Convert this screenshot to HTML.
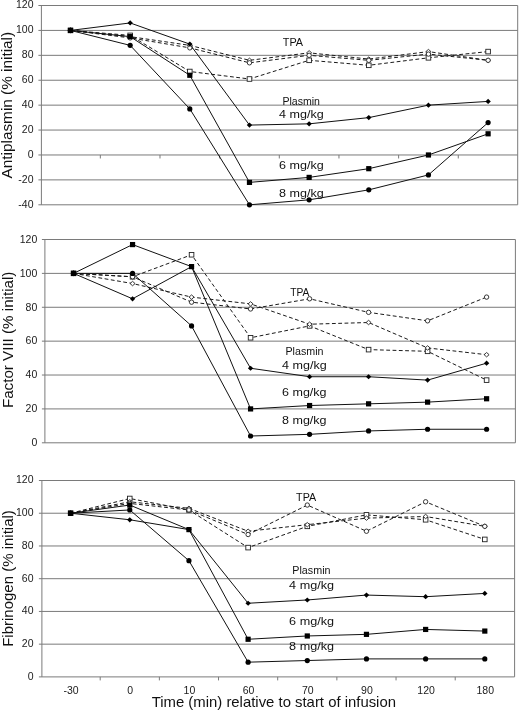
<!DOCTYPE html>
<html><head><meta charset="utf-8"><title>Chart</title>
<style>
html,body{margin:0;padding:0;background:#fff;}
body{width:520px;height:712px;overflow:hidden;}
svg{display:block;will-change:transform;}
text{font-family:"Liberation Sans",sans-serif;fill:#111;}
.yl{font-size:10.5px;fill:#1a1a1a;}
.xl{font-size:10.5px;fill:#1a1a1a;}
.lb{font-size:10.5px;}
.yt{font-size:14.6px;}
.xt{font-size:14.8px;}
</style></head><body>
<svg width="520" height="712" viewBox="0 0 520 712">
<rect width="520" height="712" fill="#fff"/>
<line x1="38.4" y1="5.5" x2="517.7" y2="5.5" stroke="#7a7a7a" stroke-width="1"/>
<text x="33.5" y="8.3" text-anchor="end" class="yl">120</text>
<line x1="38.4" y1="30.41" x2="517.7" y2="30.41" stroke="#7a7a7a" stroke-width="1"/>
<text x="33.5" y="33.21" text-anchor="end" class="yl">100</text>
<line x1="38.4" y1="55.33" x2="517.7" y2="55.33" stroke="#7a7a7a" stroke-width="1"/>
<text x="33.5" y="58.12" text-anchor="end" class="yl">80</text>
<line x1="38.4" y1="80.24" x2="517.7" y2="80.24" stroke="#7a7a7a" stroke-width="1"/>
<text x="33.5" y="83.04" text-anchor="end" class="yl">60</text>
<line x1="38.4" y1="105.15" x2="517.7" y2="105.15" stroke="#7a7a7a" stroke-width="1"/>
<text x="33.5" y="107.95" text-anchor="end" class="yl">40</text>
<line x1="38.4" y1="130.06" x2="517.7" y2="130.06" stroke="#7a7a7a" stroke-width="1"/>
<text x="33.5" y="132.86" text-anchor="end" class="yl">20</text>
<line x1="38.4" y1="154.97" x2="517.7" y2="154.97" stroke="#7a7a7a" stroke-width="1"/>
<text x="33.5" y="157.78" text-anchor="end" class="yl">0</text>
<line x1="38.4" y1="179.89" x2="517.7" y2="179.89" stroke="#7a7a7a" stroke-width="1"/>
<text x="33.5" y="182.69" text-anchor="end" class="yl">-20</text>
<line x1="38.4" y1="204.8" x2="517.7" y2="204.8" stroke="#7a7a7a" stroke-width="1"/>
<text x="33.5" y="207.6" text-anchor="end" class="yl">-40</text>
<line x1="41.4" y1="5.5" x2="41.4" y2="204.8" stroke="#7a7a7a" stroke-width="1"/>
<line x1="517.7" y1="5.5" x2="517.7" y2="204.8" stroke="#7a7a7a" stroke-width="1"/>
<line x1="100.33" y1="154.97" x2="100.33" y2="158.47" stroke="#7a7a7a" stroke-width="1"/>
<line x1="159.99" y1="154.97" x2="159.99" y2="158.47" stroke="#7a7a7a" stroke-width="1"/>
<line x1="219.64" y1="154.97" x2="219.64" y2="158.47" stroke="#7a7a7a" stroke-width="1"/>
<line x1="279.3" y1="154.97" x2="279.3" y2="158.47" stroke="#7a7a7a" stroke-width="1"/>
<line x1="338.96" y1="154.97" x2="338.96" y2="158.47" stroke="#7a7a7a" stroke-width="1"/>
<line x1="398.61" y1="154.97" x2="398.61" y2="158.47" stroke="#7a7a7a" stroke-width="1"/>
<line x1="458.27" y1="154.97" x2="458.27" y2="158.47" stroke="#7a7a7a" stroke-width="1"/>
<text transform="translate(12.2 178.4) rotate(-90)" class="yt" textLength="146.5" lengthAdjust="spacingAndGlyphs">Antiplasmin (% initial)</text>
<polyline points="70.5,30.41 130.16,35.4 189.81,71.52 249.47,78.99 309.13,60.31 368.79,65.29 428.44,57.82 488.1,51.59" fill="none" stroke="#1a1a1a" stroke-width="1" stroke-dasharray="3.8 2.5"/>
<polyline points="70.5,30.41 130.16,36.64 189.81,45.36 249.47,60.31 309.13,52.83 368.79,59.06 428.44,51.59 488.1,60.31" fill="none" stroke="#1a1a1a" stroke-width="1" stroke-dasharray="3.8 2.5"/>
<polyline points="70.5,30.41 130.16,37.89 189.81,47.85 249.47,62.8 309.13,55.33 368.79,60.31 428.44,54.08 488.1,60.31" fill="none" stroke="#1a1a1a" stroke-width="1" stroke-dasharray="3.8 2.5"/>
<polyline points="70.5,30.41 130.16,22.94 189.81,44.11 249.47,125.08 309.13,123.83 368.79,117.61 428.44,105.15 488.1,101.41" fill="none" stroke="#111" stroke-width="1"/>
<polyline points="70.5,30.41 130.16,36.64 189.81,75.26 249.47,182.38 309.13,177.4 368.79,168.68 428.44,154.97 488.1,133.8" fill="none" stroke="#111" stroke-width="1"/>
<polyline points="70.5,30.41 130.16,45.36 189.81,108.89 249.47,204.8 309.13,199.82 368.79,189.85 428.44,174.91 488.1,122.59" fill="none" stroke="#111" stroke-width="1"/>
<rect x="68.2" y="28.11" width="4.6" height="4.6" fill="#fff" stroke="#222" stroke-width="0.9"/>
<rect x="127.86" y="33.1" width="4.6" height="4.6" fill="#fff" stroke="#222" stroke-width="0.9"/>
<rect x="187.51" y="69.22" width="4.6" height="4.6" fill="#fff" stroke="#222" stroke-width="0.9"/>
<rect x="247.17" y="76.69" width="4.6" height="4.6" fill="#fff" stroke="#222" stroke-width="0.9"/>
<rect x="306.83" y="58.01" width="4.6" height="4.6" fill="#fff" stroke="#222" stroke-width="0.9"/>
<rect x="366.49" y="62.99" width="4.6" height="4.6" fill="#fff" stroke="#222" stroke-width="0.9"/>
<rect x="426.14" y="55.52" width="4.6" height="4.6" fill="#fff" stroke="#222" stroke-width="0.9"/>
<rect x="485.8" y="49.29" width="4.6" height="4.6" fill="#fff" stroke="#222" stroke-width="0.9"/>
<path d="M70.5 28.21l2.5 2.2l-2.5 2.2l-2.5 -2.2z" fill="#fff" stroke="#222" stroke-width="0.9"/>
<path d="M130.16 34.44l2.5 2.2l-2.5 2.2l-2.5 -2.2z" fill="#fff" stroke="#222" stroke-width="0.9"/>
<path d="M189.81 43.16l2.5 2.2l-2.5 2.2l-2.5 -2.2z" fill="#fff" stroke="#222" stroke-width="0.9"/>
<path d="M249.47 58.11l2.5 2.2l-2.5 2.2l-2.5 -2.2z" fill="#fff" stroke="#222" stroke-width="0.9"/>
<path d="M309.13 50.63l2.5 2.2l-2.5 2.2l-2.5 -2.2z" fill="#fff" stroke="#222" stroke-width="0.9"/>
<path d="M368.79 56.86l2.5 2.2l-2.5 2.2l-2.5 -2.2z" fill="#fff" stroke="#222" stroke-width="0.9"/>
<path d="M428.44 49.39l2.5 2.2l-2.5 2.2l-2.5 -2.2z" fill="#fff" stroke="#222" stroke-width="0.9"/>
<path d="M488.1 58.11l2.5 2.2l-2.5 2.2l-2.5 -2.2z" fill="#fff" stroke="#222" stroke-width="0.9"/>
<circle cx="70.5" cy="30.41" r="2.2" fill="#fff" stroke="#222" stroke-width="0.9"/>
<circle cx="130.16" cy="37.89" r="2.2" fill="#fff" stroke="#222" stroke-width="0.9"/>
<circle cx="189.81" cy="47.85" r="2.2" fill="#fff" stroke="#222" stroke-width="0.9"/>
<circle cx="249.47" cy="62.8" r="2.2" fill="#fff" stroke="#222" stroke-width="0.9"/>
<circle cx="309.13" cy="55.33" r="2.2" fill="#fff" stroke="#222" stroke-width="0.9"/>
<circle cx="368.79" cy="60.31" r="2.2" fill="#fff" stroke="#222" stroke-width="0.9"/>
<circle cx="428.44" cy="54.08" r="2.2" fill="#fff" stroke="#222" stroke-width="0.9"/>
<circle cx="488.1" cy="60.31" r="2.2" fill="#fff" stroke="#222" stroke-width="0.9"/>
<circle cx="70.5" cy="30.41" r="2.6" fill="#000"/>
<circle cx="130.16" cy="45.36" r="2.6" fill="#000"/>
<circle cx="189.81" cy="108.89" r="2.6" fill="#000"/>
<circle cx="249.47" cy="204.8" r="2.6" fill="#000"/>
<circle cx="309.13" cy="199.82" r="2.6" fill="#000"/>
<circle cx="368.79" cy="189.85" r="2.6" fill="#000"/>
<circle cx="428.44" cy="174.91" r="2.6" fill="#000"/>
<circle cx="488.1" cy="122.59" r="2.6" fill="#000"/>
<path d="M70.5 27.81l2.7 2.6l-2.7 2.6l-2.7 -2.6z" fill="#000"/>
<path d="M130.16 20.34l2.7 2.6l-2.7 2.6l-2.7 -2.6z" fill="#000"/>
<path d="M189.81 41.51l2.7 2.6l-2.7 2.6l-2.7 -2.6z" fill="#000"/>
<path d="M249.47 122.48l2.7 2.6l-2.7 2.6l-2.7 -2.6z" fill="#000"/>
<path d="M309.13 121.23l2.7 2.6l-2.7 2.6l-2.7 -2.6z" fill="#000"/>
<path d="M368.79 115.01l2.7 2.6l-2.7 2.6l-2.7 -2.6z" fill="#000"/>
<path d="M428.44 102.55l2.7 2.6l-2.7 2.6l-2.7 -2.6z" fill="#000"/>
<path d="M488.1 98.81l2.7 2.6l-2.7 2.6l-2.7 -2.6z" fill="#000"/>
<rect x="67.9" y="27.81" width="5.2" height="5.2" fill="#000"/>
<rect x="127.56" y="34.04" width="5.2" height="5.2" fill="#000"/>
<rect x="187.21" y="72.66" width="5.2" height="5.2" fill="#000"/>
<rect x="246.87" y="179.78" width="5.2" height="5.2" fill="#000"/>
<rect x="306.53" y="174.8" width="5.2" height="5.2" fill="#000"/>
<rect x="366.19" y="166.08" width="5.2" height="5.2" fill="#000"/>
<rect x="425.84" y="152.38" width="5.2" height="5.2" fill="#000"/>
<rect x="485.5" y="131.2" width="5.2" height="5.2" fill="#000"/>
<text x="282.8" y="45.8" class="lb" style="font-size:11.3px" textLength="20.3" lengthAdjust="spacingAndGlyphs">TPA</text>
<text x="282.4" y="104.5" class="lb" style="font-size:11.3px" textLength="37.6" lengthAdjust="spacingAndGlyphs">Plasmin</text>
<text x="279" y="117.9" class="lb" style="font-size:10.5px" textLength="44.7" lengthAdjust="spacingAndGlyphs">4 mg/kg</text>
<text x="279" y="168.7" class="lb" style="font-size:10.5px" textLength="44.7" lengthAdjust="spacingAndGlyphs">6 mg/kg</text>
<text x="279" y="196.5" class="lb" style="font-size:10.5px" textLength="44.7" lengthAdjust="spacingAndGlyphs">8 mg/kg</text>
<line x1="41.9" y1="239.5" x2="515.4" y2="239.5" stroke="#7a7a7a" stroke-width="1"/>
<text x="37.3" y="242.8" text-anchor="end" class="yl">120</text>
<line x1="41.9" y1="273.38" x2="515.4" y2="273.38" stroke="#7a7a7a" stroke-width="1"/>
<text x="37.3" y="276.68" text-anchor="end" class="yl">100</text>
<line x1="41.9" y1="307.27" x2="515.4" y2="307.27" stroke="#7a7a7a" stroke-width="1"/>
<text x="37.3" y="310.57" text-anchor="end" class="yl">80</text>
<line x1="41.9" y1="341.15" x2="515.4" y2="341.15" stroke="#7a7a7a" stroke-width="1"/>
<text x="37.3" y="344.45" text-anchor="end" class="yl">60</text>
<line x1="41.9" y1="375.03" x2="515.4" y2="375.03" stroke="#7a7a7a" stroke-width="1"/>
<text x="37.3" y="378.33" text-anchor="end" class="yl">40</text>
<line x1="41.9" y1="408.92" x2="515.4" y2="408.92" stroke="#7a7a7a" stroke-width="1"/>
<text x="37.3" y="412.22" text-anchor="end" class="yl">20</text>
<line x1="41.9" y1="442.8" x2="515.4" y2="442.8" stroke="#7a7a7a" stroke-width="1"/>
<text x="37.3" y="446.1" text-anchor="end" class="yl">0</text>
<line x1="44.9" y1="239.5" x2="44.9" y2="442.8" stroke="#7a7a7a" stroke-width="1"/>
<line x1="515.4" y1="239.5" x2="515.4" y2="442.8" stroke="#7a7a7a" stroke-width="1"/>
<text transform="translate(13 408.1) rotate(-90)" class="yt" textLength="136.5" lengthAdjust="spacingAndGlyphs">Factor VIII (% initial)</text>
<polyline points="73.55,273.38 132.56,276.77 191.56,254.75 250.57,337.76 309.58,325.9 368.59,349.62 427.59,351.31 486.6,380.12" fill="none" stroke="#1a1a1a" stroke-width="1" stroke-dasharray="3.8 2.5"/>
<polyline points="73.55,273.38 132.56,283.55 191.56,297.1 250.57,303.88 309.58,324.21 368.59,322.51 427.59,347.93 486.6,354.7" fill="none" stroke="#1a1a1a" stroke-width="1" stroke-dasharray="3.8 2.5"/>
<polyline points="73.55,273.38 132.56,276.77 191.56,302.18 250.57,308.96 309.58,298.8 368.59,312.35 427.59,320.82 486.6,297.1" fill="none" stroke="#1a1a1a" stroke-width="1" stroke-dasharray="3.8 2.5"/>
<polyline points="73.55,273.38 132.56,298.8 191.56,266.61 250.57,368.26 309.58,376.73 368.59,376.73 427.59,380.12 486.6,363.17" fill="none" stroke="#111" stroke-width="1"/>
<polyline points="73.55,273.38 132.56,244.58 191.56,266.61 250.57,408.92 309.58,405.53 368.59,403.83 427.59,402.14 486.6,398.75" fill="none" stroke="#111" stroke-width="1"/>
<polyline points="73.55,273.38 132.56,273.38 191.56,325.9 250.57,436.02 309.58,434.33 368.59,430.94 427.59,429.25 486.6,429.25" fill="none" stroke="#111" stroke-width="1"/>
<rect x="71.25" y="271.08" width="4.6" height="4.6" fill="#fff" stroke="#222" stroke-width="0.9"/>
<rect x="130.26" y="274.47" width="4.6" height="4.6" fill="#fff" stroke="#222" stroke-width="0.9"/>
<rect x="189.26" y="252.45" width="4.6" height="4.6" fill="#fff" stroke="#222" stroke-width="0.9"/>
<rect x="248.27" y="335.46" width="4.6" height="4.6" fill="#fff" stroke="#222" stroke-width="0.9"/>
<rect x="307.28" y="323.6" width="4.6" height="4.6" fill="#fff" stroke="#222" stroke-width="0.9"/>
<rect x="366.29" y="347.32" width="4.6" height="4.6" fill="#fff" stroke="#222" stroke-width="0.9"/>
<rect x="425.29" y="349.01" width="4.6" height="4.6" fill="#fff" stroke="#222" stroke-width="0.9"/>
<rect x="484.3" y="377.82" width="4.6" height="4.6" fill="#fff" stroke="#222" stroke-width="0.9"/>
<path d="M73.55 271.18l2.5 2.2l-2.5 2.2l-2.5 -2.2z" fill="#fff" stroke="#222" stroke-width="0.9"/>
<path d="M132.56 281.35l2.5 2.2l-2.5 2.2l-2.5 -2.2z" fill="#fff" stroke="#222" stroke-width="0.9"/>
<path d="M191.56 294.9l2.5 2.2l-2.5 2.2l-2.5 -2.2z" fill="#fff" stroke="#222" stroke-width="0.9"/>
<path d="M250.57 301.68l2.5 2.2l-2.5 2.2l-2.5 -2.2z" fill="#fff" stroke="#222" stroke-width="0.9"/>
<path d="M309.58 322.01l2.5 2.2l-2.5 2.2l-2.5 -2.2z" fill="#fff" stroke="#222" stroke-width="0.9"/>
<path d="M368.59 320.31l2.5 2.2l-2.5 2.2l-2.5 -2.2z" fill="#fff" stroke="#222" stroke-width="0.9"/>
<path d="M427.59 345.73l2.5 2.2l-2.5 2.2l-2.5 -2.2z" fill="#fff" stroke="#222" stroke-width="0.9"/>
<path d="M486.6 352.5l2.5 2.2l-2.5 2.2l-2.5 -2.2z" fill="#fff" stroke="#222" stroke-width="0.9"/>
<circle cx="73.55" cy="273.38" r="2.2" fill="#fff" stroke="#222" stroke-width="0.9"/>
<circle cx="132.56" cy="276.77" r="2.2" fill="#fff" stroke="#222" stroke-width="0.9"/>
<circle cx="191.56" cy="302.18" r="2.2" fill="#fff" stroke="#222" stroke-width="0.9"/>
<circle cx="250.57" cy="308.96" r="2.2" fill="#fff" stroke="#222" stroke-width="0.9"/>
<circle cx="309.58" cy="298.8" r="2.2" fill="#fff" stroke="#222" stroke-width="0.9"/>
<circle cx="368.59" cy="312.35" r="2.2" fill="#fff" stroke="#222" stroke-width="0.9"/>
<circle cx="427.59" cy="320.82" r="2.2" fill="#fff" stroke="#222" stroke-width="0.9"/>
<circle cx="486.6" cy="297.1" r="2.2" fill="#fff" stroke="#222" stroke-width="0.9"/>
<circle cx="73.55" cy="273.38" r="2.6" fill="#000"/>
<circle cx="132.56" cy="273.38" r="2.6" fill="#000"/>
<circle cx="191.56" cy="325.9" r="2.6" fill="#000"/>
<circle cx="250.57" cy="436.02" r="2.6" fill="#000"/>
<circle cx="309.58" cy="434.33" r="2.6" fill="#000"/>
<circle cx="368.59" cy="430.94" r="2.6" fill="#000"/>
<circle cx="427.59" cy="429.25" r="2.6" fill="#000"/>
<circle cx="486.6" cy="429.25" r="2.6" fill="#000"/>
<path d="M73.55 270.78l2.7 2.6l-2.7 2.6l-2.7 -2.6z" fill="#000"/>
<path d="M132.56 296.2l2.7 2.6l-2.7 2.6l-2.7 -2.6z" fill="#000"/>
<path d="M191.56 264.01l2.7 2.6l-2.7 2.6l-2.7 -2.6z" fill="#000"/>
<path d="M250.57 365.66l2.7 2.6l-2.7 2.6l-2.7 -2.6z" fill="#000"/>
<path d="M309.58 374.13l2.7 2.6l-2.7 2.6l-2.7 -2.6z" fill="#000"/>
<path d="M368.59 374.13l2.7 2.6l-2.7 2.6l-2.7 -2.6z" fill="#000"/>
<path d="M427.59 377.52l2.7 2.6l-2.7 2.6l-2.7 -2.6z" fill="#000"/>
<path d="M486.6 360.57l2.7 2.6l-2.7 2.6l-2.7 -2.6z" fill="#000"/>
<rect x="70.95" y="270.78" width="5.2" height="5.2" fill="#000"/>
<rect x="129.96" y="241.98" width="5.2" height="5.2" fill="#000"/>
<rect x="188.96" y="264.01" width="5.2" height="5.2" fill="#000"/>
<rect x="247.97" y="406.32" width="5.2" height="5.2" fill="#000"/>
<rect x="306.98" y="402.93" width="5.2" height="5.2" fill="#000"/>
<rect x="365.99" y="401.23" width="5.2" height="5.2" fill="#000"/>
<rect x="424.99" y="399.54" width="5.2" height="5.2" fill="#000"/>
<rect x="484" y="396.15" width="5.2" height="5.2" fill="#000"/>
<text x="290.2" y="296.2" class="lb" style="font-size:11.3px" textLength="19.2" lengthAdjust="spacingAndGlyphs">TPA</text>
<text x="285.5" y="355.1" class="lb" style="font-size:11.3px" textLength="38" lengthAdjust="spacingAndGlyphs">Plasmin</text>
<text x="282" y="369.2" class="lb" style="font-size:10.5px" textLength="44.7" lengthAdjust="spacingAndGlyphs">4 mg/kg</text>
<text x="282" y="396" class="lb" style="font-size:10.5px" textLength="44.6" lengthAdjust="spacingAndGlyphs">6 mg/kg</text>
<text x="282" y="424.4" class="lb" style="font-size:10.5px" textLength="44.6" lengthAdjust="spacingAndGlyphs">8 mg/kg</text>
<line x1="38.9" y1="480.5" x2="514.6" y2="480.5" stroke="#7a7a7a" stroke-width="1"/>
<text x="33.5" y="483.3" text-anchor="end" class="yl">120</text>
<line x1="38.9" y1="513.23" x2="514.6" y2="513.23" stroke="#7a7a7a" stroke-width="1"/>
<text x="33.5" y="516.03" text-anchor="end" class="yl">100</text>
<line x1="38.9" y1="545.97" x2="514.6" y2="545.97" stroke="#7a7a7a" stroke-width="1"/>
<text x="33.5" y="548.77" text-anchor="end" class="yl">80</text>
<line x1="38.9" y1="578.7" x2="514.6" y2="578.7" stroke="#7a7a7a" stroke-width="1"/>
<text x="33.5" y="581.5" text-anchor="end" class="yl">60</text>
<line x1="38.9" y1="611.43" x2="514.6" y2="611.43" stroke="#7a7a7a" stroke-width="1"/>
<text x="33.5" y="614.23" text-anchor="end" class="yl">40</text>
<line x1="38.9" y1="644.17" x2="514.6" y2="644.17" stroke="#7a7a7a" stroke-width="1"/>
<text x="33.5" y="646.97" text-anchor="end" class="yl">20</text>
<line x1="38.9" y1="676.9" x2="514.6" y2="676.9" stroke="#7a7a7a" stroke-width="1"/>
<text x="33.5" y="679.7" text-anchor="end" class="yl">0</text>
<line x1="41.9" y1="480.5" x2="41.9" y2="676.9" stroke="#7a7a7a" stroke-width="1"/>
<line x1="514.6" y1="480.5" x2="514.6" y2="676.9" stroke="#7a7a7a" stroke-width="1"/>
<line x1="100.19" y1="676.9" x2="100.19" y2="680.4" stroke="#7a7a7a" stroke-width="1"/>
<line x1="159.36" y1="676.9" x2="159.36" y2="680.4" stroke="#7a7a7a" stroke-width="1"/>
<line x1="218.53" y1="676.9" x2="218.53" y2="680.4" stroke="#7a7a7a" stroke-width="1"/>
<line x1="277.7" y1="676.9" x2="277.7" y2="680.4" stroke="#7a7a7a" stroke-width="1"/>
<line x1="336.87" y1="676.9" x2="336.87" y2="680.4" stroke="#7a7a7a" stroke-width="1"/>
<line x1="396.04" y1="676.9" x2="396.04" y2="680.4" stroke="#7a7a7a" stroke-width="1"/>
<line x1="455.21" y1="676.9" x2="455.21" y2="680.4" stroke="#7a7a7a" stroke-width="1"/>
<text x="71.1" y="694" text-anchor="middle" class="xl">-30</text>
<text x="130.27" y="694" text-anchor="middle" class="xl">0</text>
<text x="189.44" y="694" text-anchor="middle" class="xl">10</text>
<text x="248.61" y="694" text-anchor="middle" class="xl">60</text>
<text x="307.79" y="694" text-anchor="middle" class="xl">70</text>
<text x="366.96" y="694" text-anchor="middle" class="xl">90</text>
<text x="426.13" y="694" text-anchor="middle" class="xl">120</text>
<text x="485.3" y="694" text-anchor="middle" class="xl">180</text>
<text transform="translate(13.1 646.8) rotate(-90)" class="yt" textLength="136.6" lengthAdjust="spacingAndGlyphs">Fibrinogen (% initial)</text>
<polyline points="70.6,513.23 129.77,498.5 188.94,509.96 248.11,547.6 307.29,526.33 366.46,514.87 425.63,519.78 484.8,539.42" fill="none" stroke="#1a1a1a" stroke-width="1" stroke-dasharray="3.8 2.5"/>
<polyline points="70.6,513.23 129.77,501.78 188.94,508.32 248.11,531.24 307.29,524.69 366.46,518.14 425.63,516.51 484.8,526.33" fill="none" stroke="#1a1a1a" stroke-width="1" stroke-dasharray="3.8 2.5"/>
<polyline points="70.6,513.23 129.77,503.41 188.94,509.96 248.11,534.51 307.29,505.05 366.46,531.24 425.63,501.78 484.8,526.33" fill="none" stroke="#1a1a1a" stroke-width="1" stroke-dasharray="3.8 2.5"/>
<polyline points="70.6,513.23 129.77,519.78 188.94,529.6 248.11,603.25 307.29,599.98 366.46,595.07 425.63,596.7 484.8,593.43" fill="none" stroke="#111" stroke-width="1"/>
<polyline points="70.6,513.23 129.77,505.05 188.94,529.6 248.11,639.26 307.29,635.98 366.46,634.35 425.63,629.44 484.8,631.07" fill="none" stroke="#111" stroke-width="1"/>
<polyline points="70.6,513.23 129.77,509.96 188.94,560.7 248.11,662.17 307.29,660.53 366.46,658.9 425.63,658.9 484.8,658.9" fill="none" stroke="#111" stroke-width="1"/>
<rect x="68.3" y="510.93" width="4.6" height="4.6" fill="#fff" stroke="#222" stroke-width="0.9"/>
<rect x="127.47" y="496.2" width="4.6" height="4.6" fill="#fff" stroke="#222" stroke-width="0.9"/>
<rect x="186.64" y="507.66" width="4.6" height="4.6" fill="#fff" stroke="#222" stroke-width="0.9"/>
<rect x="245.81" y="545.3" width="4.6" height="4.6" fill="#fff" stroke="#222" stroke-width="0.9"/>
<rect x="304.99" y="524.03" width="4.6" height="4.6" fill="#fff" stroke="#222" stroke-width="0.9"/>
<rect x="364.16" y="512.57" width="4.6" height="4.6" fill="#fff" stroke="#222" stroke-width="0.9"/>
<rect x="423.33" y="517.48" width="4.6" height="4.6" fill="#fff" stroke="#222" stroke-width="0.9"/>
<rect x="482.5" y="537.12" width="4.6" height="4.6" fill="#fff" stroke="#222" stroke-width="0.9"/>
<path d="M70.6 511.03l2.5 2.2l-2.5 2.2l-2.5 -2.2z" fill="#fff" stroke="#222" stroke-width="0.9"/>
<path d="M129.77 499.58l2.5 2.2l-2.5 2.2l-2.5 -2.2z" fill="#fff" stroke="#222" stroke-width="0.9"/>
<path d="M188.94 506.12l2.5 2.2l-2.5 2.2l-2.5 -2.2z" fill="#fff" stroke="#222" stroke-width="0.9"/>
<path d="M248.11 529.04l2.5 2.2l-2.5 2.2l-2.5 -2.2z" fill="#fff" stroke="#222" stroke-width="0.9"/>
<path d="M307.29 522.49l2.5 2.2l-2.5 2.2l-2.5 -2.2z" fill="#fff" stroke="#222" stroke-width="0.9"/>
<path d="M366.46 515.94l2.5 2.2l-2.5 2.2l-2.5 -2.2z" fill="#fff" stroke="#222" stroke-width="0.9"/>
<path d="M425.63 514.31l2.5 2.2l-2.5 2.2l-2.5 -2.2z" fill="#fff" stroke="#222" stroke-width="0.9"/>
<path d="M484.8 524.13l2.5 2.2l-2.5 2.2l-2.5 -2.2z" fill="#fff" stroke="#222" stroke-width="0.9"/>
<circle cx="70.6" cy="513.23" r="2.2" fill="#fff" stroke="#222" stroke-width="0.9"/>
<circle cx="129.77" cy="503.41" r="2.2" fill="#fff" stroke="#222" stroke-width="0.9"/>
<circle cx="188.94" cy="509.96" r="2.2" fill="#fff" stroke="#222" stroke-width="0.9"/>
<circle cx="248.11" cy="534.51" r="2.2" fill="#fff" stroke="#222" stroke-width="0.9"/>
<circle cx="307.29" cy="505.05" r="2.2" fill="#fff" stroke="#222" stroke-width="0.9"/>
<circle cx="366.46" cy="531.24" r="2.2" fill="#fff" stroke="#222" stroke-width="0.9"/>
<circle cx="425.63" cy="501.78" r="2.2" fill="#fff" stroke="#222" stroke-width="0.9"/>
<circle cx="484.8" cy="526.33" r="2.2" fill="#fff" stroke="#222" stroke-width="0.9"/>
<circle cx="70.6" cy="513.23" r="2.6" fill="#000"/>
<circle cx="129.77" cy="509.96" r="2.6" fill="#000"/>
<circle cx="188.94" cy="560.7" r="2.6" fill="#000"/>
<circle cx="248.11" cy="662.17" r="2.6" fill="#000"/>
<circle cx="307.29" cy="660.53" r="2.6" fill="#000"/>
<circle cx="366.46" cy="658.9" r="2.6" fill="#000"/>
<circle cx="425.63" cy="658.9" r="2.6" fill="#000"/>
<circle cx="484.8" cy="658.9" r="2.6" fill="#000"/>
<path d="M70.6 510.63l2.7 2.6l-2.7 2.6l-2.7 -2.6z" fill="#000"/>
<path d="M129.77 517.18l2.7 2.6l-2.7 2.6l-2.7 -2.6z" fill="#000"/>
<path d="M188.94 527l2.7 2.6l-2.7 2.6l-2.7 -2.6z" fill="#000"/>
<path d="M248.11 600.65l2.7 2.6l-2.7 2.6l-2.7 -2.6z" fill="#000"/>
<path d="M307.29 597.38l2.7 2.6l-2.7 2.6l-2.7 -2.6z" fill="#000"/>
<path d="M366.46 592.47l2.7 2.6l-2.7 2.6l-2.7 -2.6z" fill="#000"/>
<path d="M425.63 594.1l2.7 2.6l-2.7 2.6l-2.7 -2.6z" fill="#000"/>
<path d="M484.8 590.83l2.7 2.6l-2.7 2.6l-2.7 -2.6z" fill="#000"/>
<rect x="68" y="510.63" width="5.2" height="5.2" fill="#000"/>
<rect x="127.17" y="502.45" width="5.2" height="5.2" fill="#000"/>
<rect x="186.34" y="527" width="5.2" height="5.2" fill="#000"/>
<rect x="245.51" y="636.66" width="5.2" height="5.2" fill="#000"/>
<rect x="304.69" y="633.38" width="5.2" height="5.2" fill="#000"/>
<rect x="363.86" y="631.75" width="5.2" height="5.2" fill="#000"/>
<rect x="423.03" y="626.84" width="5.2" height="5.2" fill="#000"/>
<rect x="482.2" y="628.47" width="5.2" height="5.2" fill="#000"/>
<text x="296.1" y="500.7" class="lb" style="font-size:11.3px" textLength="20.1" lengthAdjust="spacingAndGlyphs">TPA</text>
<text x="292.3" y="574.3" class="lb" style="font-size:11.3px" textLength="38.2" lengthAdjust="spacingAndGlyphs">Plasmin</text>
<text x="289.1" y="588.7" class="lb" style="font-size:10.5px" textLength="45" lengthAdjust="spacingAndGlyphs">4 mg/kg</text>
<text x="289.1" y="625.4" class="lb" style="font-size:10.5px" textLength="45" lengthAdjust="spacingAndGlyphs">6 mg/kg</text>
<text x="289.1" y="649.5" class="lb" style="font-size:10.5px" textLength="45" lengthAdjust="spacingAndGlyphs">8 mg/kg</text>
<text x="151.7" y="707" class="xt" textLength="244.3" lengthAdjust="spacingAndGlyphs">Time (min) relative to start of infusion</text>
</svg>
</body></html>
